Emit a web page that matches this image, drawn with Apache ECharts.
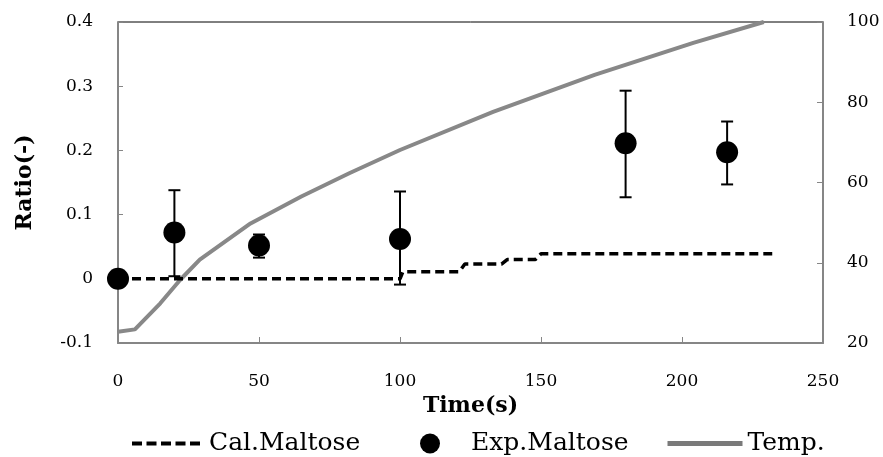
<!DOCTYPE html>
<html>
<head>
<meta charset="utf-8">
<script src="https://cdn.jsdelivr.net/npm/echarts@6/dist/echarts.min.js"></script>
<style>
  html, body { margin: 0; padding: 0; background: #fff; }
  #chart { width: 883px; height: 457px; }
</style>
</head>
<body>
<div id="chart"></div>
<script>
// Cal.Maltose step curve
const calTime  = [0, 100, 101, 121, 123, 136, 138, 148, 150, 232];
const calRatio = [0, 0, 0.011, 0.011, 0.023, 0.023, 0.030, 0.030, 0.039, 0.039];

// Exp.Maltose points with error bars
const expTime  = [0, 20, 50, 100, 180, 216];
const expRatio = [0, 0.072, 0.052, 0.062, 0.211, 0.197];
const expHigh  = [0, 0.138, 0.069, 0.136, 0.293, 0.245];
const expLow   = [0, 0.004, 0.033, -0.009, 0.127, 0.147];

// Temperature (right axis)
const tempTime  = [0, 6, 15, 22, 29, 47, 65, 82, 100, 133, 169, 204, 229];
const tempValue = [22.8, 23.4, 29.9, 35.7, 40.8, 49.8, 56.5, 62.3, 68.1, 77.6, 86.8, 94.8, 100];

const xTicks = { min: 0, max: 250, interval: 50 };
const ratioTicks = { min: -0.1, max: 0.4, interval: 0.1 };
const tempTicks = { min: 20, max: 100, interval: 20 };

const font = 'DejaVu Serif';
const axisGray = '#868686';

let myChart = echarts.init(document.getElementById('chart'));

// error bars drawn as vertical line + caps
function renderErr(params, api) {
  const x = api.value(0), hi = api.value(1), lo = api.value(2);
  if (hi === lo) return;
  const top = api.coord([x, hi]);
  const bot = api.coord([x, lo]);
  const w = 6;
  const st = { stroke: '#000', lineWidth: 2 };
  return {
    type: 'group',
    children: [
      { type: 'line', shape: { x1: top[0], y1: top[1], x2: bot[0], y2: bot[1] }, style: st },
      { type: 'line', shape: { x1: top[0] - w, y1: top[1], x2: top[0] + w, y2: top[1] }, style: st },
      { type: 'line', shape: { x1: bot[0] - w, y1: bot[1], x2: bot[0] + w, y2: bot[1] }, style: st }
    ]
  };
}

const legendText = { fontFamily: font, fontSize: 25, color: '#000' };

myChart.setOption({
  animation: false,
  grid: {
    left: 118, right: 60, top: 22, bottom: 114,
    show: true, borderColor: '#000', borderWidth: 1, backgroundColor: 'transparent'
  },
  legend: [
    {
      data: ['Cal.Maltose'], left: 125, top: 426, itemWidth: 72, itemHeight: 20,
      itemStyle: { opacity: 0 }, lineStyle: { width: 4, type: [10, 4.5] }, textStyle: legendText
    },
    { data: ['Exp.Maltose'], left: 415, top: 426, itemWidth: 72, itemHeight: 20, textStyle: legendText },
    {
      data: ['Temp.'], left: 660, top: 426, itemWidth: 75, itemHeight: 20,
      itemStyle: { opacity: 0 }, lineStyle: { width: 5, color: '#7a7a7a' }, textStyle: legendText
    }
  ],
  xAxis: {
    type: 'value',
    min: xTicks.min, max: xTicks.max, interval: xTicks.interval,
    name: 'Time(s)', nameLocation: 'middle', nameGap: 51,
    nameTextStyle: { fontFamily: font, fontSize: 22, fontWeight: 'bold', color: '#000' },
    axisLine: { onZero: false, lineStyle: { color: axisGray, width: 2 } },
    axisTick: { inside: true, length: 6, lineStyle: { color: axisGray, width: 1 } },
    axisLabel: { margin: 30, fontFamily: font, fontSize: 17, color: '#000' },
    splitLine: { show: false }
  },
  yAxis: [
    {
      type: 'value',
      min: ratioTicks.min, max: ratioTicks.max, interval: ratioTicks.interval,
      name: 'Ratio(-)', nameLocation: 'middle', nameGap: 82,
      nameTextStyle: { fontFamily: font, fontSize: 22, fontWeight: 'bold', color: '#000' },
      axisLine: { show: true, onZero: false, lineStyle: { color: axisGray, width: 2 } },
      axisTick: { show: true, inside: true, length: 5, lineStyle: { color: axisGray, width: 1 } },
      axisLabel: {
        margin: 25, fontFamily: font, fontSize: 17, color: '#000',
        formatter: v => String(+v.toFixed(1))
      },
      splitLine: { show: false }
    },
    {
      type: 'value',
      position: 'right',
      min: tempTicks.min, max: tempTicks.max, interval: tempTicks.interval,
      axisLine: { show: true, onZero: false, lineStyle: { color: axisGray, width: 2 } },
      axisTick: { show: true, inside: true, length: 6, lineStyle: { color: axisGray, width: 1 } },
      axisLabel: { margin: 24, fontFamily: font, fontSize: 17, color: '#000' },
      splitLine: { show: false }
    }
  ],
  series: [
    {
      name: 'Temp.',
      type: 'line',
      yAxisIndex: 1,
      symbol: 'none',
      z: 2,
      lineStyle: { color: '#888888', width: 4 },
      itemStyle: { color: '#888888' },
      data: tempTime.map((t, i) => [t, tempValue[i]])
    },
    {
      name: 'Cal.Maltose',
      type: 'line',
      symbol: 'none',
      z: 3,
      lineStyle: { color: '#000', width: 3.5, type: [9, 5] },
      itemStyle: { color: '#000' },
      data: calTime.map((t, i) => [t, calRatio[i]])
    },
    {
      type: 'custom',
      z: 4,
      renderItem: renderErr,
      encode: { x: 0, y: [1, 2] },
      data: expTime.map((t, i) => [t, expHigh[i], expLow[i]])
    },
    {
      name: 'Exp.Maltose',
      type: 'scatter',
      symbol: 'circle',
      symbolSize: 22,
      z: 5,
      itemStyle: { color: '#000', opacity: 1 },
      data: expTime.map((t, i) => [t, expRatio[i]])
    }
  ]
});
</script>
</body>
</html>
